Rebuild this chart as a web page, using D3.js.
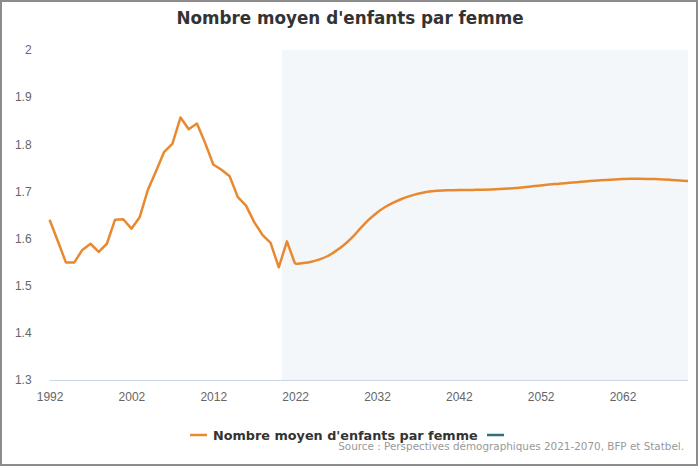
<!DOCTYPE html>
<html>
<head>
<meta charset="utf-8">
<script src="https://cdn.jsdelivr.net/npm/d3@7"></script>
<style>
  html, body { margin: 0; padding: 0; background: #fff; }
  svg { display: block; font-family: "DejaVu Sans", sans-serif; }
  .yAxis text, .xAxis text { fill: #666; font-size: 12px; }
  .yAxis path, .xAxis path { display: none; }
</style>
</head>
<body>
<svg id="chart" width="700" height="467"></svg>
<script>
var years = d3.range(1992, 2071);

// Nombre moyen d'enfants par femme, 1992-2070 (observed to 2021, projections after)
var fertility = [
  1.640, 1.595, 1.549, 1.549, 1.576, 1.589, 1.572, 1.589, 1.640, 1.641,
  1.621, 1.645, 1.703, 1.743, 1.784, 1.801, 1.857, 1.832, 1.844, 1.803,
  1.757, 1.746, 1.732, 1.688, 1.670, 1.635, 1.608, 1.591, 1.539, 1.594,
  1.546, 1.548, 1.551, 1.556, 1.563, 1.574, 1.587, 1.603, 1.622, 1.640,
  1.655, 1.667, 1.676, 1.684, 1.690, 1.695, 1.699, 1.701, 1.702, 1.7025,
  1.703, 1.703, 1.7033, 1.7037, 1.7043, 1.705, 1.706, 1.7075, 1.709, 1.711,
  1.7128, 1.7145, 1.716, 1.7175, 1.719, 1.7205, 1.722, 1.7233, 1.7245, 1.7255,
  1.7262, 1.7267, 1.7268, 1.7266, 1.7262, 1.7255, 1.7245, 1.7233, 1.722
];

var xTicks = [1992, 2002, 2012, 2022, 2032, 2042, 2052, 2062];
var yTicks = [1.3, 1.4, 1.5, 1.6, 1.7, 1.8, 1.9, 2];
var projectionBand = [2020.4, 2070];
var smoothFrom = 2022;

var titleText = "Nombre moyen d'enfants par femme";
var legendLabels = ["Nombre moyen d'enfants par femme", ""];
var sourceText = "Source : Perspectives démographiques 2021-2070, BFP et Statbel.";

var W = 700, H = 467;
var plot = { left: 49.6, right: 688, top: 50, bottom: 380 };

var svg = d3.select('#chart');

// outer frame
svg.append('rect')
  .attr('x', 1).attr('y', 1)
  .attr('width', W - 4).attr('height', H - 3)
  .attr('fill', '#fff')
  .attr('stroke', '#8c8c8c')
  .attr('stroke-width', 2);

var x = d3.scaleLinear()
  .domain([1992, 2070])
  .range([plot.left, plot.right]);

var y = d3.scaleLinear()
  .domain([1.3, 2])
  .range([plot.bottom, plot.top]);

svg.append('rect')
  .attr('class', 'plotBand')
  .attr('x', x(projectionBand[0]))
  .attr('y', y(2))
  .attr('width', x(projectionBand[1]) - x(projectionBand[0]))
  .attr('height', y(1.3) - y(2))
  .attr('fill', '#f4f7fa');

svg.append('text')
  .attr('x', W / 2)
  .attr('y', 24)
  .attr('text-anchor', 'middle')
  .attr('font-size', '16.8px')
  .attr('font-weight', 'bold')
  .attr('fill', '#333')
  .text(titleText);

svg.append('g')
  .attr('class', 'yAxis')
  .attr('transform', 'translate(' + plot.left + ',0)')
  .call(d3.axisLeft(y).tickValues(yTicks).tickFormat(d3.format('~g')).tickSize(0).tickPadding(18));

svg.append('line')
  .attr('x1', plot.left).attr('x2', plot.right)
  .attr('y1', y(1.3) + 0.5).attr('y2', y(1.3) + 0.5)
  .attr('stroke', '#ccd6eb')
  .attr('stroke-width', 1);

svg.append('g')
  .attr('class', 'xAxis')
  .attr('transform', 'translate(0,' + plot.bottom + ')')
  .call(d3.axisBottom(x).tickValues(xTicks).tickFormat(d3.format('d')).tickSize(0).tickPadding(12));

var points = fertility.map(function(v, i) { return [years[i], v]; });

var observedLine = d3.line()
  .x(function(d) { return x(d[0]); })
  .y(function(d) { return y(d[1]); });

var projectedLine = d3.line()
  .curve(d3.curveMonotoneX)
  .x(function(d) { return x(d[0]); })
  .y(function(d) { return y(d[1]); });

svg.append('path')
  .datum(points.filter(function(d) { return d[0] <= smoothFrom; }))
  .attr('fill', 'none')
  .attr('stroke', '#e8892f')
  .attr('stroke-width', 2.5)
  .attr('stroke-linejoin', 'round')
  .attr('d', observedLine);

svg.append('path')
  .datum(points.filter(function(d) { return d[0] >= smoothFrom; }))
  .attr('fill', 'none')
  .attr('stroke', '#e8892f')
  .attr('stroke-width', 2.5)
  .attr('stroke-linejoin', 'round')
  .attr('d', projectedLine);

// legend
var legend = svg.append('g').attr('class', 'legend');

legend.append('line')
  .attr('x1', 190).attr('x2', 207)
  .attr('y1', 435).attr('y2', 435)
  .attr('stroke', '#e8892f')
  .attr('stroke-width', 2.5);

legend.append('text')
  .attr('x', 213)
  .attr('y', 439.5)
  .attr('font-size', '12.8px')
  .attr('font-weight', 'bold')
  .attr('fill', '#333')
  .text(legendLabels[0]);

legend.append('line')
  .attr('x1', 487).attr('x2', 504)
  .attr('y1', 435).attr('y2', 435)
  .attr('stroke', '#2e7377')
  .attr('stroke-width', 2.5);

svg.append('text')
  .attr('x', 684)
  .attr('y', 450)
  .attr('text-anchor', 'end')
  .attr('font-size', '10.4px')
  .attr('fill', '#999')
  .text(sourceText);
</script>
</body>
</html>
